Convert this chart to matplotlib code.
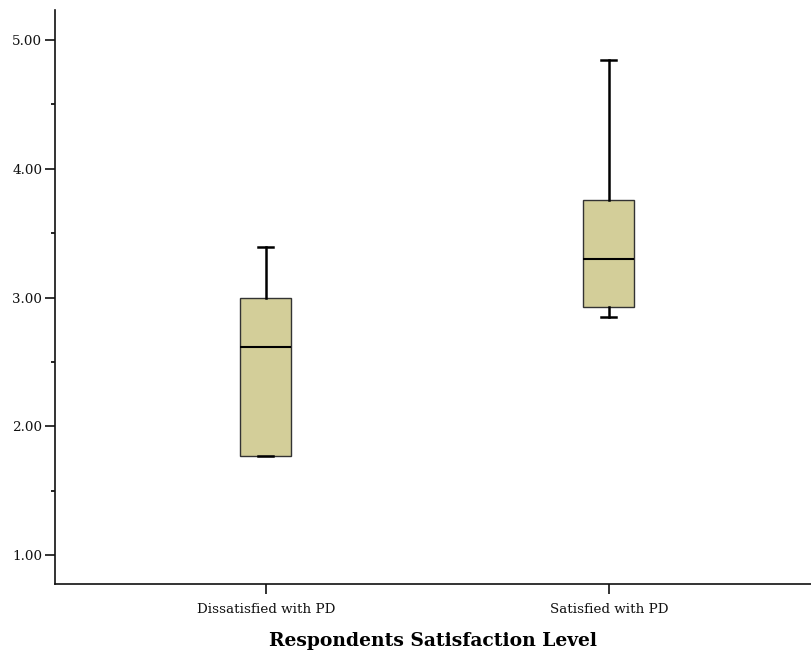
import matplotlib
matplotlib.use("Agg")
import matplotlib.pyplot as plt
from matplotlib.ticker import MultipleLocator

categories = ["Dissatisfied with PD", "Satisfied with PD"]
whislo = [1.77, 2.85]
q1 = [1.77, 2.925]
med = [2.615, 3.30]
q3 = [3.00, 3.757]
whishi = [3.39, 4.845]

plt.rcParams['font.family'] = ['DejaVu Serif']

fig = plt.figure(figsize=(8.12, 6.52), dpi=100)
ax = fig.add_axes([0.0677, 0.1043, 0.9323, 0.8804])

stats = []
for i in range(len(categories)):
    stats.append({"label": categories[i], "whislo": whislo[i], "q1": q1[i],
                  "med": med[i], "q3": q3[i], "whishi": whishi[i], "fliers": []})

ax.bxp(stats, positions=[1, 2], widths=0.149, patch_artist=True, showfliers=False,
       boxprops=dict(facecolor="#d3ce99", edgecolor="#333333", linewidth=1.0),
       medianprops=dict(color="black", linewidth=1.5),
       whiskerprops=dict(color="black", linewidth=1.8),
       capprops=dict(color="black", linewidth=1.8),
       capwidths=0.044)

ax.set_xlim(0.385, 2.592)
ax.set_ylim(0.775, 5.233)
ax.yaxis.set_major_locator(MultipleLocator(1.0))
ax.yaxis.set_minor_locator(MultipleLocator(0.5))
ax.set_yticks([1, 2, 3, 4, 5])
ax.set_yticklabels(["1.00", "2.00", "3.00", "4.00", "5.00"])
ax.set_xticks([1, 2])
ax.set_xticklabels(categories)

for s in ["top", "right"]:
    ax.spines[s].set_visible(False)
for s in ["left", "bottom"]:
    ax.spines[s].set_linewidth(1.2)
    ax.spines[s].set_color("#111111")

ax.tick_params(axis="both", which="major", direction="out", length=7, width=1.2,
               labelsize=9.7, colors="#111111")
ax.tick_params(axis="y", which="major", pad=2)
ax.tick_params(axis="y", which="minor", direction="out", length=3, width=1.2)
ax.tick_params(axis="x", pad=7)

ax.set_xlabel("Respondents Satisfaction Level", fontsize=13.5, fontweight="bold", labelpad=11.5)

fig.savefig("out.png", dpi=100)
